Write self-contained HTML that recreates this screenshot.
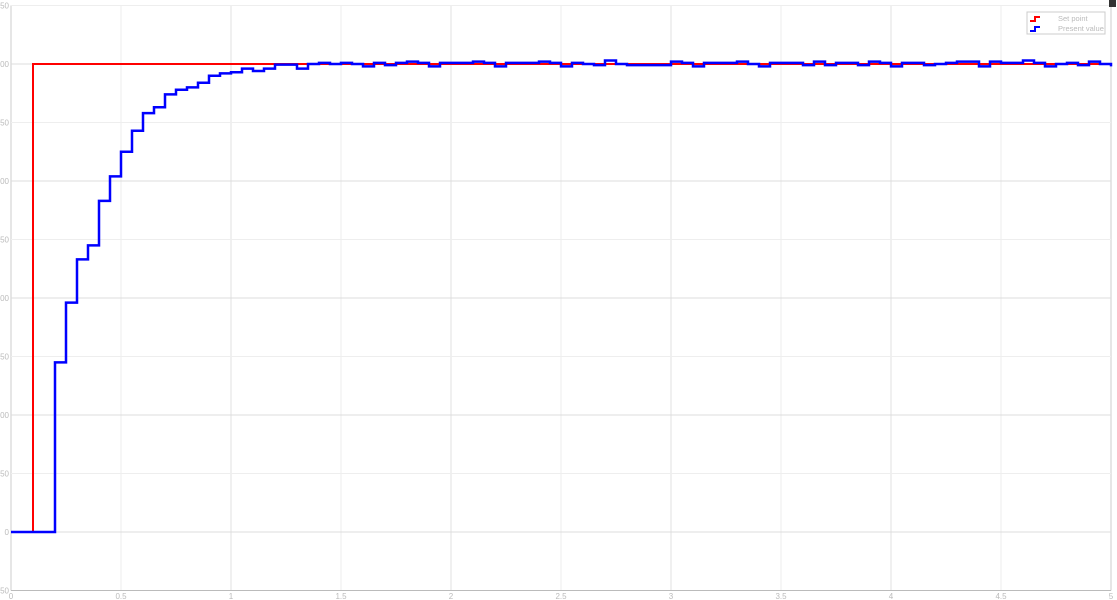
<!DOCTYPE html>
<html><head><meta charset="utf-8"><style>
body{margin:0;background:#fff;width:1117px;height:600px;overflow:hidden;font-family:"Liberation Sans",sans-serif}
svg{display:block}
</style></head><body>
<svg id="chart" width="1117" height="600" xmlns="http://www.w3.org/2000/svg">
<g id="grid"></g>
<g id="ticks"></g>
<path id="sp" fill="none" stroke="#ff0000" stroke-width="2"/>
<path id="pv" fill="none" stroke="#0000ff" stroke-width="2.5"/>
<g>
<rect x="1027" y="12" width="78" height="22" fill="#fff" stroke="#ccc" stroke-width="1"/>
<path d="M1030 21 h5 v-4 h5" fill="none" stroke="#f00" stroke-width="2"/>
<path d="M1030 31 h5 v-4 h5" fill="none" stroke="#00f" stroke-width="2"/>
<text x="1058" y="21" font-size="7.5" fill="#bbb">Set point</text>
<text x="1058" y="31" font-size="7.5" fill="#bbb">Present value</text>
</g>
<rect x="1109" y="0" width="7" height="7" fill="#333"/>
</svg>
<script>
const xTicks=[0,0.5,1,1.5,2,2.5,3,3.5,4,4.5,5];
const xTickLabels=["0","0.5","1","1.5","2","2.5","3","3.5","4","4.5","5"];
const yTicks=[-50,0,50,100,150,200,250,300,350,400,450];
const yTickLabels=["-50","0","50","100","150","200","250","300","350","400","450"];
const sampleT=0.05;
const setPointTimes=[0,0.1,5];
const setPointValues=[0,400,400];
const pvStart=0.2;
const pvValues=[145,196,233,245,283,304,325,343,358,363,374,378,380,384,390,392,393,396,394,396,399.5,399.5,396,400,401,400,401,400,398,401,399,401,402,401,398,401,401,401,402,401,398,401,401,401,402,401,398,401,400,399,403,400,399,399,399,399,402,401,398,401,401,401,402,400,398,401,401,401,399,402,399,401,401,399,402,401,398,401,401,399,400,401,402,402,398,402,401,401,403,401,398,400,401,399,402,400,398,401,401,401];
const X0=11,X1=1111,Y0=532,YS=1.17;
const x=t=>X0+(t/5)*(X1-X0);
const y=v=>Y0-v*YS;
const NS='http://www.w3.org/2000/svg';
const grid=document.getElementById('grid'),ticks=document.getElementById('ticks');
xTicks.forEach((t,i)=>{
 const l=document.createElementNS(NS,'line');
 
 
 l.setAttribute('x1',x(t));l.setAttribute('x2',x(t));l.setAttribute('y1',y(450));l.setAttribute('y2',y(-50));
 l.setAttribute('stroke',i==0||i==xTicks.length-1?'#ccc':(t%1==0?'#e0e0e0':'#ececec'));grid.appendChild(l);
 const tx=document.createElementNS(NS,'text');
 
 
 tx.setAttribute('x',x(t));tx.setAttribute('y',599);tx.setAttribute('font-size','8');tx.setAttribute('fill','#bbb');tx.setAttribute('text-anchor','middle');
 tx.textContent=xTickLabels[i];ticks.appendChild(tx);
});
yTicks.forEach((v,i)=>{
 const l=document.createElementNS(NS,'line');
 
 
 l.setAttribute('x1',X0);l.setAttribute('x2',X1);l.setAttribute('y1',y(v));l.setAttribute('y2',y(v));
 l.setAttribute('stroke',v==-50?'#bbb':(v%100==0?'#ddd':'#eee'));grid.appendChild(l);
 const tx=document.createElementNS(NS,'text');
 
 
 tx.setAttribute('x',9);tx.setAttribute('y',y(v)+3);tx.setAttribute('font-size','8');tx.setAttribute('fill','#bbb');tx.setAttribute('text-anchor','end');
 tx.textContent=yTickLabels[i];ticks.appendChild(tx);
});
let d='M'+x(0)+' '+y(setPointValues[0]);
for(let i=1;i<setPointTimes.length;i++){d+=' H'+x(setPointTimes[i])+' V'+y(setPointValues[i]);}
document.getElementById('sp').setAttribute('d',d);
let p='M'+x(0)+' '+y(0)+' H'+x(pvStart);
pvValues.forEach((v,i)=>{const t=pvStart+i*sampleT;p+=' V'+y(v)+' H'+x(Math.min(5,t+sampleT));});
document.getElementById('pv').setAttribute('d',p);
</script>
</body></html>
